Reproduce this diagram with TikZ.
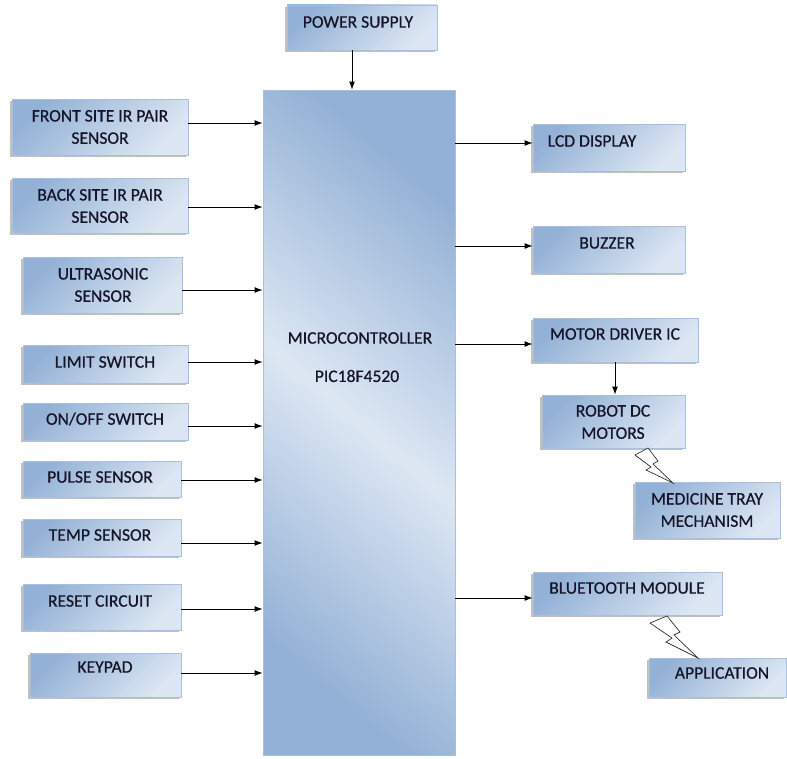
\documentclass[tikz,border=0pt]{standalone}
\usepackage{fontspec}
\setmainfont{Carlito}[FakeBold=0.6]
\usetikzlibrary{arrows.meta,fit,shadows,calc}
\definecolor{bdark}{HTML}{93B1D6}
\definecolor{blight}{HTML}{DDE7F3}
\definecolor{bline}{HTML}{A9BFDC}
\definecolor{txtc}{RGB}{22,20,40}
\begin{document}
\begin{tikzpicture}[x=0.03cm,y=-0.03cm,
  box/.style={draw=bline, line width=0.4pt, inner sep=0pt, top color=bdark, bottom color=blight, shading angle=45,
    drop shadow={shadow xshift=-1.6pt, shadow yshift=-1.6pt, fill=black!45, opacity=0.55}},
  mcbox/.style={draw=bline, line width=0.4pt, inner sep=0pt, top color=bdark, bottom color=bdark, middle color=blight, shading angle=-40},
  lbl/.style={text=txtc, font=\fontsize{15}{19}\selectfont, align=center, inner sep=0pt},
  arr/.style={-{Latex[length=7pt,width=5pt]}, line width=0.8pt, black},
  bolt/.style={draw=black!80, line width=0.6pt, fill=white}]
\useasboundingbox (0,0) rectangle (787,759);

% microcontroller
\node[mcbox, fit={(263,90) (455,755)}] (mc) {};
\node[lbl] (mct1) at (360,338) {MICROCONTROLLER};
\node[lbl] (mct2) at (357,376) {PIC18F4520};

% power supply
\node[box, fit={(287,5) (437,50)}] (ps) {};
\node[lbl] (pst) at (358,22) {POWER SUPPLY};

% left boxes
\node[box, fit={(12,99) (188,155)}] (front) {};
\node[lbl] (frontt) at (100,127) {FRONT SITE IR PAIR\\SENSOR};
\node[box, fit={(12,178) (188,233)}] (back) {};
\node[lbl] (backt) at (100,206) {BACK SITE IR PAIR\\SENSOR};
\node[box, fit={(23,257) (182,313)}] (ultra) {};
\node[lbl] (ultrat) at (103,285) {ULTRASONIC\\SENSOR};
\node[box, fit={(23,345) (188,383)}] (limit) {};
\node[lbl] (limitt) at (105,362) {LIMIT SWITCH};
\node[box, fit={(23,403) (188,440)}] (onoff) {};
\node[lbl] (onofft) at (105,419) {ON/OFF SWITCH};
\node[box, fit={(23,461) (181,497)}] (pulse) {};
\node[lbl] (pulset) at (100,477) {PULSE SENSOR};
\node[box, fit={(23,519) (181,556)}] (temp) {};
\node[lbl] (tempt) at (100,535) {TEMP SENSOR};
\node[box, fit={(23,584) (181,630)}] (reset) {};
\node[lbl] (resett) at (100,601) {RESET CIRCUIT};
\node[box, fit={(30,653) (181,697)}] (key) {};
\node[lbl] (keyt) at (105,667) {KEYPAD};

% right boxes
\node[box, fit={(533,124) (685,171)}] (lcd) {};
\node[lbl] (lcdt) at (592,141) {LCD DISPLAY};
\node[box, fit={(533,226) (685,273)}] (buz) {};
\node[lbl] (buzt) at (607,243) {BUZZER};
\node[box, fit={(533,318) (698,362)}] (mdrv) {};
\node[lbl] (mdrvt) at (615,334) {MOTOR DRIVER IC};
\node[box, fit={(542,395) (685,448)}] (robot) {};
\node[lbl] (robott) at (613,422) {ROBOT DC\\MOTORS};
\node[box, fit={(635,482) (780,538)}] (tray) {};
\node[lbl] (trayt) at (707,510) {MEDICINE TRAY\\MECHANISM};
\node[box, fit={(533,572) (722,615)}] (bt) {};
\node[lbl] (btt) at (627,588) {BLUETOOTH MODULE};
\node[box, fit={(649,658) (786,697)}] (app) {};
\node[lbl] (appt) at (722,673) {APPLICATION};

% arrows
\draw[arr] (ps.south -| 352,0) -- (mc.north -| 352,0);
\draw[arr] (front.east |- 0,123) -- (mc.west |- 0,123);
\draw[arr] (back.east |- 0,207) -- (mc.west |- 0,207);
\draw[arr] (ultra.east |- 0,290) -- (mc.west |- 0,290);
\draw[arr] (limit.east |- 0,362) -- (mc.west |- 0,362);
\draw[arr] (onoff.east |- 0,426) -- (mc.west |- 0,426);
\draw[arr] (pulse.east |- 0,480) -- (mc.west |- 0,480);
\draw[arr] (temp.east |- 0,543) -- (mc.west |- 0,543);
\draw[arr] (reset.east |- 0,609) -- (mc.west |- 0,609);
\draw[arr] (key.east |- 0,673) -- (mc.west |- 0,673);
\draw[arr] (mc.east |- 0,143) -- (lcd.west |- 0,143);
\draw[arr] (mc.east |- 0,246) -- (buz.west |- 0,246);
\draw[arr] (mc.east |- 0,344) -- (mdrv.west |- 0,344);
\draw[arr] (mc.east |- 0,598) -- (bt.west |- 0,598);
\draw[arr] (mdrv.south -| 615,0) -- (robot.north -| 615,0);

% lightning bolts
\draw[bolt] (635,455) -- (648,448) -- (658,461) -- (653,464) -- (673,483) -- (646,470) -- (651,467) -- cycle;
\draw[bolt] (650,623) -- (667,616) -- (680,632) -- (674,635) -- (698,658) -- (666,642) -- (672,638) -- cycle;
\end{tikzpicture}
\end{document}
